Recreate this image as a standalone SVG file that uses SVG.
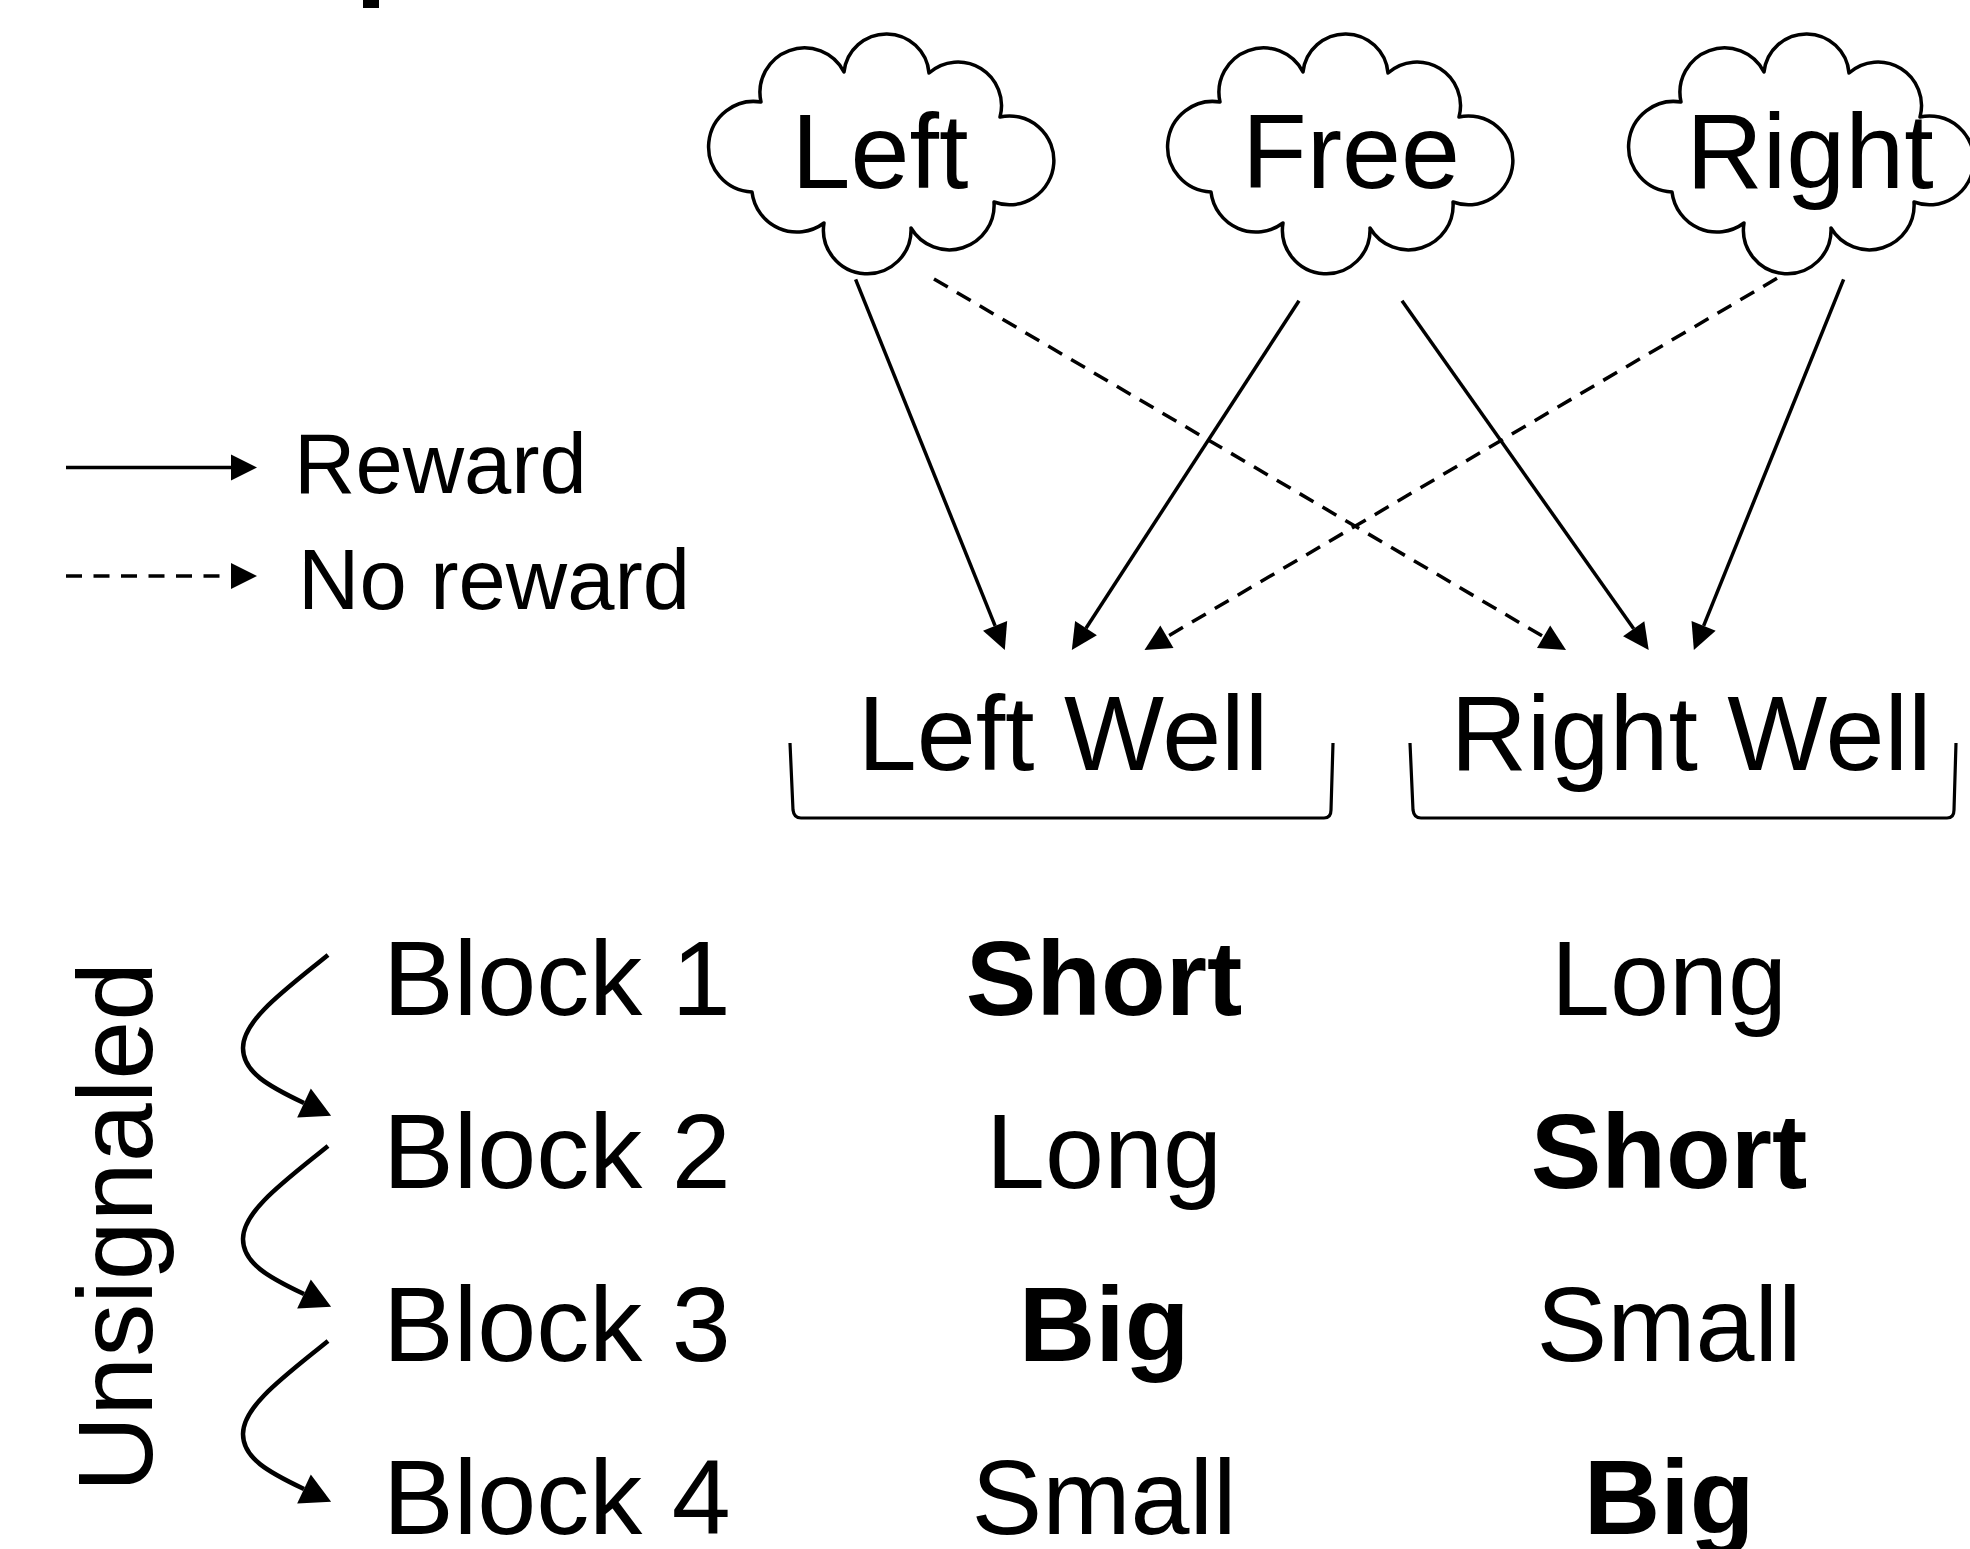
<svg xmlns="http://www.w3.org/2000/svg" width="1970" height="1549" viewBox="0 0 1970 1549">
<style>
.t{font-family:"Liberation Sans",Arial,Helvetica,sans-serif;fill:#000}
.big{font-size:106px}
.leg{font-size:85px}
.b{font-weight:bold}
.cloud{fill:#fff;stroke:#000;stroke-width:3.5;stroke-linejoin:round}
.ln{fill:none;stroke:#000;stroke-width:3.5}
.dash{stroke-dasharray:16 10.5}
.crv{fill:none;stroke:#000;stroke-width:4.5}
.br{fill:none;stroke:#000;stroke-width:3.2}
</style>
<defs>
<path id="cloudShape" d="M53,68 A44.5,44.5 0 0 1 136,38 A42.7,42.7 0 0 1 221,39 A43.6,43.6 0 0 1 292,83 A44.4,44.4 0 1 1 286,168 A44.7,44.7 0 0 1 203,194 A43.8,43.8 0 1 1 116,189 A45.2,45.2 0 0 1 44,158 A45.3,45.3 0 1 1 53,68 Z"/>
<marker id="ah" markerUnits="userSpaceOnUse" markerWidth="27" markerHeight="27" refX="0" refY="13" orient="auto" overflow="visible">
<path d="M0,0 L26,13 L0,26 Z" fill="#000"/>
</marker>
<marker id="ahc" markerUnits="userSpaceOnUse" markerWidth="31" markerHeight="33" refX="0" refY="16" orient="auto" overflow="visible">
<path d="M0,0 L30,16 L0,32 Z" fill="#000"/>
</marker>
</defs>
<rect width="1970" height="1549" fill="#fff"/>
<rect id="title-fragment" x="363" y="0" width="16" height="8" fill="#000"/>

<g id="node-left">
<use href="#cloudShape" class="cloud" transform="translate(708,34)"/>
<text class="t big" x="880" y="188" text-anchor="middle">Left</text>
</g>
<g id="node-free">
<use href="#cloudShape" class="cloud" transform="translate(1167,34)"/>
<text class="t big" x="1351" y="188" text-anchor="middle">Free</text>
</g>
<g id="node-right">
<use href="#cloudShape" class="cloud" transform="translate(1628,34)"/>
<text class="t big" x="1810" y="188" text-anchor="middle">Right</text>
</g>

<g id="node-left-well">
<path class="br" d="M790,743 L793,810 Q794,818 801,818 L1324,818 Q1331,818 1331,810 L1333,743"/>
<text class="t big" x="1063" y="770" text-anchor="middle">Left Well</text>
</g>
<g id="node-right-well">
<path class="br" d="M1410,743 L1413,810 Q1414,818 1421,818 L1947,818 Q1954,818 1954,810 L1956,743"/>
<text class="t big" x="1691" y="770" text-anchor="middle">Right Well</text>
</g>

<g id="legend">
<path class="ln" d="M66,467.5 L231,467.5" marker-end="url(#ah)"/>
<text class="t leg" x="294" y="493">Reward</text>
<path class="ln" d="M66,576 L231,576" style="stroke-dasharray:16 11.5" marker-end="url(#ah)"/>
<text class="t leg" x="298" y="609">No reward</text>
</g>

<g id="connectors">
<path class="ln" d="M855.6,279.3 L995.1,625.9" marker-end="url(#ah)"/>
<path class="ln dash" d="M934,279 L1543.6,636.8" marker-end="url(#ah)"/>
<path class="ln" d="M1299,300.7 L1086,628.2" marker-end="url(#ah)"/>
<path class="ln" d="M1402,300.7 L1633.7,628.8" marker-end="url(#ah)"/>
<path class="ln dash" d="M1777,278.3 L1166.9,636.8" marker-end="url(#ah)"/>
<path class="ln" d="M1843.6,279.3 L1703.6,625.9" marker-end="url(#ah)"/>
<path class="crv" d="M328,955 C285,990 243,1020 243,1048 C243,1072 268,1086 304,1103" marker-end="url(#ahc)"/>
<path class="crv" transform="translate(0,191)" d="M328,955 C285,990 243,1020 243,1048 C243,1072 268,1086 304,1103" marker-end="url(#ahc)"/>
<path class="crv" transform="translate(0,386)" d="M328,955 C285,990 243,1020 243,1048 C243,1072 268,1086 304,1103" marker-end="url(#ahc)"/>
</g>

<g id="label-unsignaled">
<text class="t big" transform="translate(152,1227) rotate(-90)" text-anchor="middle">Unsignaled</text>
</g>

<g id="row-block1">
<text class="t big" x="383" y="1015">Block 1</text>
<text class="t big b" x="1104" y="1015" text-anchor="middle">Short</text>
<text class="t big" x="1669" y="1015" text-anchor="middle">Long</text>
</g>
<g id="row-block2">
<text class="t big" x="383" y="1188">Block 2</text>
<text class="t big" x="1104" y="1188" text-anchor="middle">Long</text>
<text class="t big b" x="1669" y="1188" text-anchor="middle">Short</text>
</g>
<g id="row-block3">
<text class="t big" x="383" y="1361">Block 3</text>
<text class="t big b" x="1104" y="1361" text-anchor="middle">Big</text>
<text class="t big" x="1669" y="1361" text-anchor="middle">Small</text>
</g>
<g id="row-block4">
<text class="t big" x="383" y="1534">Block 4</text>
<text class="t big" x="1104" y="1534" text-anchor="middle">Small</text>
<text class="t big b" x="1669" y="1534" text-anchor="middle">Big</text>
</g>
</svg>
